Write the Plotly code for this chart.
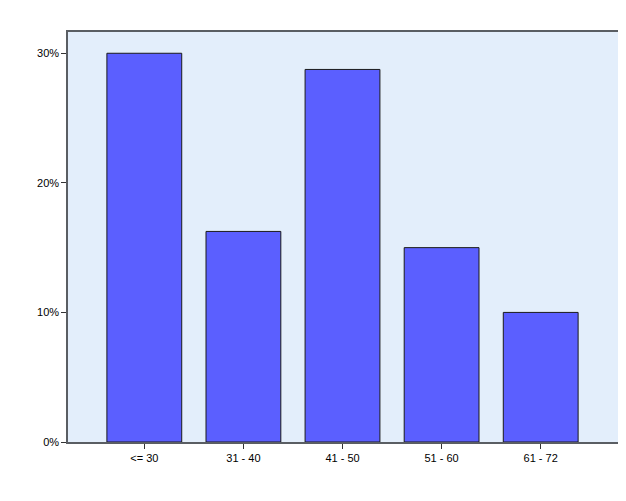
import plotly.graph_objects as go

categories = ["<= 30", "31 - 40", "41 - 50", "51 - 60", "61 - 72"]
percents = [30.0, 16.25, 28.75, 15.0, 10.0]
y_ticks = [0, 10, 20, 30]
y_tick_labels = ["0%", "10%", "20%", "30%"]

fig = go.Figure(go.Bar(
    x=list(range(len(categories))),
    y=percents,
    width=0.755,
    marker=dict(color="#5B5FFF", line=dict(color="#1a1a1a", width=1)),
))

fig.update_layout(
    width=618, height=493,
    margin=dict(l=60, r=6, t=24, b=59),
    paper_bgcolor="white",
    plot_bgcolor="#E3EEFB",
    font=dict(family="Liberation Sans, Arial, sans-serif", size=11, color="black"),
    showlegend=False,
    xaxis=dict(
        tickmode="array", tickvals=list(range(len(categories))), ticktext=categories,
        range=[-0.77, 4.78], showgrid=False, zeroline=False,
        showline=True, linecolor="#5a5e63", linewidth=1.5, mirror=True,
        ticks="outside", ticklen=5, tickcolor="#333", tickwidth=1,
    ),
    yaxis=dict(
        tickmode="array", tickvals=y_ticks, ticktext=y_tick_labels,
        range=[0, 31.64], showgrid=False, zeroline=False,
        showline=True, linecolor="#5a5e63", linewidth=1.5, mirror=True,
        ticks="outside", ticklen=5, tickcolor="#333", tickwidth=1,
    ),
)

fig.write_html("out.html")
